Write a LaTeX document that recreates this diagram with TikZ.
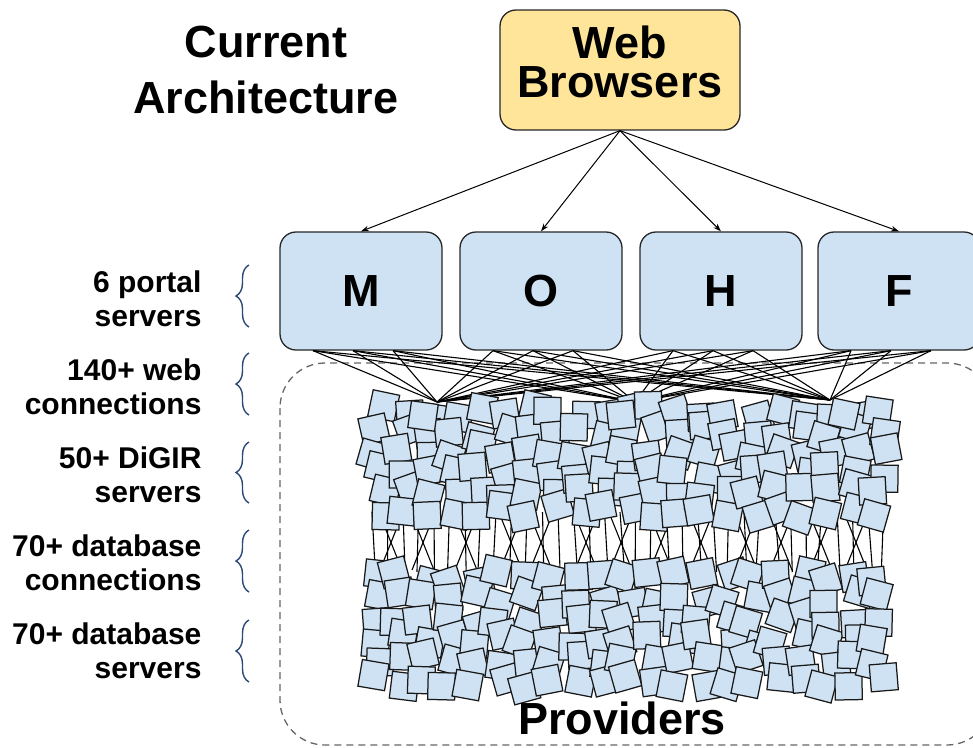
\documentclass[tikz,border=0pt]{standalone}
\usepackage{fontspec}
\setmainfont{Liberation Sans}
\usetikzlibrary{decorations.pathreplacing,arrows.meta}
\definecolor{boxblue}{HTML}{CFE2F3}
\definecolor{webyellow}{HTML}{FFE599}
\definecolor{bracecol}{HTML}{2B4A78}

\begin{document}
\begin{tikzpicture}[x=1pt,y=-1pt,
  portal/.style={draw=black!85, line width=1.3pt, fill=boxblue, rounded corners=16pt,
    minimum width=162pt, minimum height=118pt, font=\fontsize{45}{45}\selectfont\bfseries},
  sq/.style={draw=black!90, line width=1.25pt, fill=boxblue, minimum size=27pt, inner sep=0pt},
  wire/.style={black, line width=1.1pt},
  arr/.style={black, line width=1pt, -{Stealth[length=8pt,width=5.5pt]}},
  big/.style={inner sep=0pt, font=\fontsize{45}{45}\selectfont\bfseries},
  lbl/.style={align=right, anchor=east, font=\fontsize{30}{34}\selectfont\bfseries},
  brc/.style={decorate, decoration={brace, amplitude=13pt}, draw=bracecol, line width=1.4pt}]
\useasboundingbox (0,0) rectangle (973,747);
%providers area
\draw[dashed, dash pattern=on 7pt off 5pt, black!60, line width=1.3pt, rounded corners=45pt]
  (280,363) rectangle (992,745);
%title
\node[align=center, font=\fontsize{45}{56}\selectfont\bfseries] (title) at (266,70) {Current\\Architecture};
%browsers
\node[draw=black!85, line width=1.3pt, fill=webyellow, rounded corners=16pt,
  minimum width=240pt, minimum height=120pt] (wb) at (620,70) {};
\node[big, anchor=base] (web) at (620,58) {Web};
\node[big, anchor=base] (browsers) at (620,97) {Browsers};
%portals
\node[portal] (M) at (361,291) {M};
\node[portal] (O) at (541,291) {O};
\node[portal] (H) at (721,291) {H};
\node[portal] (F) at (899,291) {F};
\foreach \b in {M,O,H,F} \draw[arr] (wb.south) -- (\b.north);
%web connections
\coordinate (h1) at (437,402);
\coordinate (h2) at (635,402);
\coordinate (h3) at (830,400);
\foreach \b in {M,O,H,F}
  \foreach \o in {-48,-8,32}
    \foreach \h in {h1,h2,h3} \draw[wire] ([xshift=\o pt]\b.south) -- (\h);
%database connections
\pgfmathsetseed{11}
\foreach \k in {0,...,33}{
  \pgfmathsetmacro{\lx}{372+15.5*\k}
  \pgfmathsetmacro{\ld}{5*rand}
  \draw[wire] (\lx,512) -- (\lx+\ld,572);
}
\foreach \c in {380,412,455,500,530,575,610,650,690,735,770,810,845}{
  \draw[wire] (\c,515) -- (\c+22,570);
  \draw[wire] (\c+22,515) -- (\c,570);
}
%digir servers
\pgfmathsetseed{31}
\foreach \i in {0,...,20}{
  \foreach \j in {0,...,5}{
    \pgfmathsetmacro{\sx}{379+25*\i+8*rand}
    \pgfmathsetmacro{\sy}{412+20*\j+7*rand}
    \pgfmathsetmacro{\sr}{20*rand}
    \node[sq, rotate=\sr] (up-\i-\j) at (\sx,\sy) {};
  }
}
\node[sq, rotate=-8] (hub1) at (423,416) {};
\node[sq, rotate=6] (hub2) at (621,415) {};
\node[sq, rotate=-12] (hub3) at (844,414) {};
%database servers
\pgfmathsetseed{57}
\foreach \i in {0,...,20}{
  \foreach \j in {0,...,5}{
    \pgfmathsetmacro{\sx}{373+25.3*\i+8*rand}
    \pgfmathsetmacro{\sy}{577+21*\j+7*rand}
    \pgfmathsetmacro{\sr}{20*rand}
    \node[sq, rotate=\sr] (dn-\i-\j) at (\sx,\sy) {};
  }
}
\node[big] (prov) at (622,718) {Providers};
%labels
\node[lbl] (l1) at (205,299) {6 portal\\servers};
\node[lbl] (l2) at (205,387) {140+ web\\connections};
\node[lbl] (l3) at (205,475) {50+ DiGIR\\servers};
\node[lbl] (l4) at (205,563) {70+ database\\connections};
\node[lbl] (l5) at (205,651) {70+ database\\servers};
%braces
\draw[brc] (249,327) -- (249,265);
\draw[brc] (249,415) -- (249,353);
\draw[brc] (249,503) -- (249,442);
\draw[brc] (249,592) -- (249,530);
\draw[brc] (249,682) -- (249,620);
\end{tikzpicture}
\end{document}
